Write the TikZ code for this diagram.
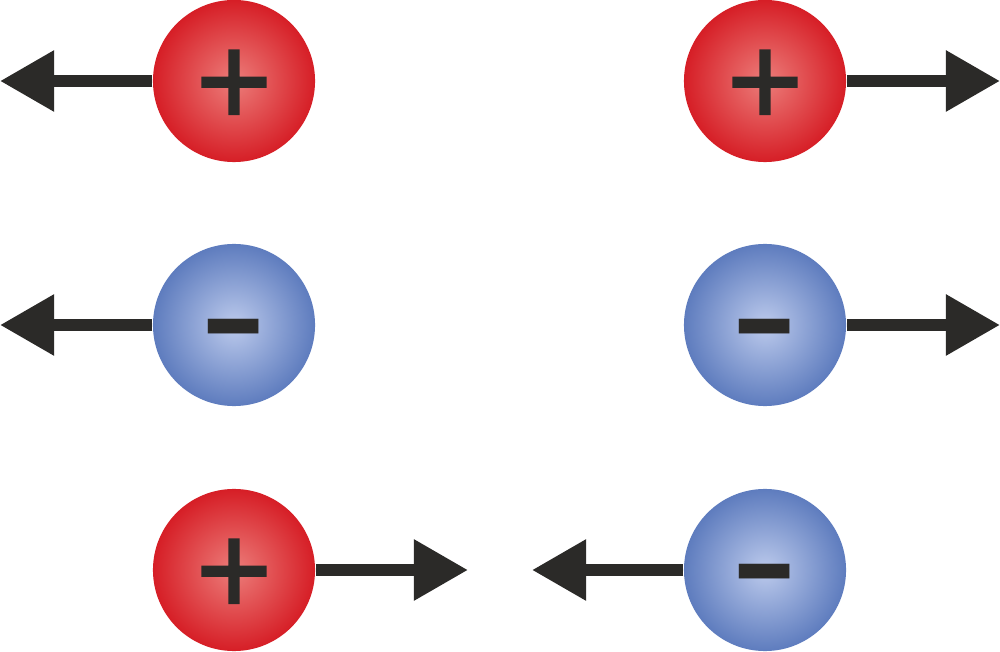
\documentclass[tikz,border=0pt]{standalone}
\usepackage{fontspec}
\setsansfont{Liberation Sans}
\usetikzlibrary{arrows.meta}
\definecolor{chargered}{RGB}{214,30,38}
\definecolor{chargeredlight}{RGB}{236,125,122}
\definecolor{chargeblue}{RGB}{94,124,190}
\definecolor{chargebluelight}{RGB}{188,202,236}
\definecolor{arrowdark}{RGB}{43,42,40}
\newcommand{\plussign}{\raisebox{-0.445cm}[0pt][0pt]{\addfontfeature{FakeBold=1.5}+}}
\newcommand{\minussign}{\raisebox{-0.33cm}[0pt][0pt]{\bfseries\scalebox{1.62}[1]{-}}}
\tikzset{
  charge/.style={circle, minimum size=1.62cm, inner sep=0pt, text=arrowdark},
  positive/.style={charge, inner color=chargeredlight, outer color=chargered,
    font=\sffamily\fontsize{37}{37}\selectfont},
  negative/.style={charge, inner color=chargebluelight, outer color=chargeblue,
    font=\sffamily\fontsize{35}{35}\selectfont},
  force/.style={arrowdark, line width=0.12cm, -{Triangle[length=0.54cm, width=0.58cm]}}
}
\begin{document}
\begin{tikzpicture}[x=0.01cm, y=-0.01cm]
    \useasboundingbox (0,0) rectangle (1000,652);

    % Draw charges
    \node[positive] (p1) at (234, 81) {\plussign};
    \node[positive] (p2) at (765, 81) {\plussign};
    \node[negative] (n1) at (234, 325) {\minussign};
    \node[negative] (n2) at (765, 325) {\minussign};
    \node[positive] (p3) at (234, 570) {\plussign};
    \node[negative] (n3) at (765, 570) {\minussign};

    % Free ends of the forces
    \coordinate (p1end) at (0, 81);
    \coordinate (p2end) at (1000, 81);
    \coordinate (n1end) at (0, 325);
    \coordinate (n2end) at (1000, 325);
    \coordinate (p3end) at (468, 570);
    \coordinate (n3end) at (532, 570);

    % Draw forces
    \draw[force] (p1.west) -- (p1end);
    \draw[force] (p2.east) -- (p2end);
    \draw[force] (n1.west) -- (n1end);
    \draw[force] (n2.east) -- (n2end);
    \draw[force] (p3.east) -- (p3end);
    \draw[force] (n3.west) -- (n3end);
\end{tikzpicture}
\end{document}
